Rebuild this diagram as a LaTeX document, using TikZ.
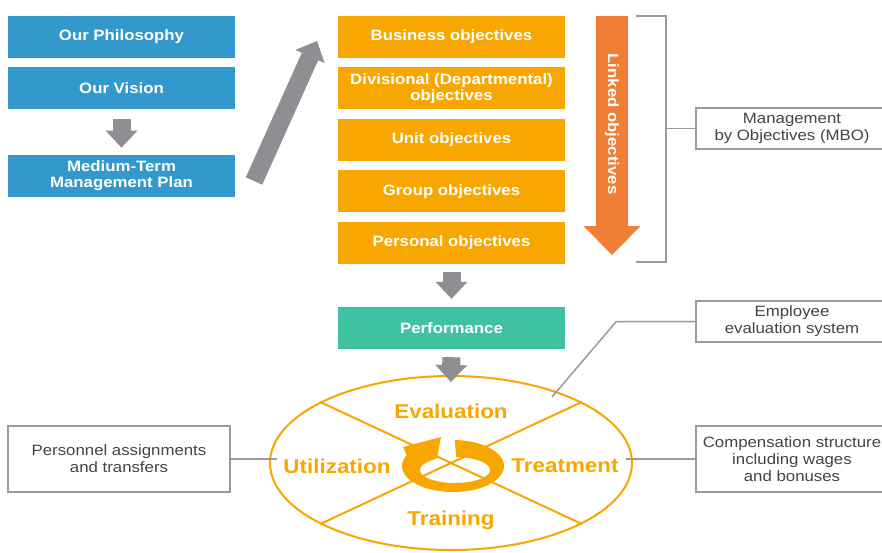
\documentclass[tikz,border=0pt]{standalone}
\usepackage{fontspec}
\setmainfont[FakeStretch=1.12]{Liberation Sans}
\usepackage{tikz}
\usetikzlibrary{arrows.meta,positioning,shapes.geometric}
\definecolor{planblue}{HTML}{3399CC}
\definecolor{objorange}{HTML}{F8A700}
\definecolor{perfteal}{HTML}{40C2A2}
\definecolor{linkorange}{HTML}{EF7F35}
\definecolor{arrgray}{HTML}{8E8F93}
\definecolor{linegray}{HTML}{9A9A9A}
\definecolor{notetext}{HTML}{444444}

\begin{document}
\begin{tikzpicture}[x=1pt,y=-1pt,
  solid box/.style={rectangle,minimum width=227pt,minimum height=42pt,inner sep=0pt,
    align=center,text=white,font=\fontsize{15}{16}\selectfont\bfseries},
  planbox/.style={solid box,fill=planblue},
  objbox/.style={solid box,fill=objorange},
  perfbox/.style={solid box,fill=perfteal},
  note/.style={rectangle,draw=linegray,line width=1.5pt,fill=white,text=notetext,
    minimum width=192pt,minimum height=41pt,inner sep=0pt,align=center,
    font=\fontsize{15}{17}\selectfont},
  link/.style={draw=linegray,line width=1.5pt},
  fatarr/.style={draw=arrgray,line width=18pt,-{Triangle[length=17pt,width=32pt,line width=0pt]}},
  linkarr/.style={draw=linkorange,line width=32pt,-{Triangle[length=29pt,width=57pt,line width=0pt]}},
  spoke/.style={draw=objorange,line width=2pt},
  wheeltxt/.style={text=objorange,font=\fontsize{20}{22}\selectfont\bfseries,inner sep=0pt}]

\fill[white] (0,0) rectangle (882,552);
\useasboundingbox (0,0) rectangle (882,552);

% left column
\node[planbox] (phil) at (121.5,37) {Our Philosophy};
\node[planbox,below=9pt of phil] (vision) {Our Vision};
\node[planbox,below=45pt of vision] (plan) {Medium-Term\\Management Plan};

% objectives
\node[objbox] (bus) at (451.5,37) {Business objectives};
\node[objbox,below=9pt of bus] (div) {Divisional (Departmental)\\objectives};
\node[objbox,below=9pt of div] (unit) {Unit objectives};
\node[objbox,below=9pt of unit] (group) {Group objectives};
\node[objbox,below=9pt of group] (pers) {Personal objectives};
\node[perfbox,below=43pt of pers] (perf) {Performance};

% linked objectives arrow
\coordinate (lktop) at (612,16);
\coordinate (lkbot) at (612,255);
\draw[linkarr] (lktop) -- (lkbot);
\node[rotate=-90,text=white,font=\fontsize{15}{16}\selectfont\bfseries] (lktext) at (612,124) {Linked objectives};

% notes
\node[note] (mbo) at (792,128.5) {Management\\by Objectives (MBO)};
\node[note] (emp) at (792,321.5) {Employee\\evaluation system};
\node[note,minimum height=66pt] (comp) at (792,459) {Compensation structure\\including wages\\and bonuses};
\node[note,minimum width=222pt,minimum height=66pt] (assign) at (119,459) {Personnel assignments\\and transfers};

% wheel
\node[draw=objorange,line width=2pt,ellipse,minimum width=362pt,minimum height=174pt,inner sep=0pt] (wheel) at (451,463) {};
\draw[spoke] (wheel.155) -- (wheel.-25);
\draw[spoke] (wheel.25) -- (wheel.205);
\fill[objorange] plot[domain=-88:205,samples=60] ({453+51*cos(\x)},{466+26*sin(\x)})
  -- (403,447) -- (441,437) -- (437,458)
  -- plot[domain=220:-88,samples=60] ({455+35*cos(\x)},{470+13*sin(\x)}) -- cycle;
\node[wheeltxt] (eval) at (451,411) {Evaluation};
\node[wheeltxt] (util) at (337,466) {Utilization};
\node[wheeltxt] (treat) at (565,466) {Treatment};
\node[wheeltxt] (train) at (451,520) {Training};

% arrows
\coordinate (risefrom) at (254,181);
\coordinate (riseto) at (317,41);
\draw[fatarr,shorten <=9pt,shorten >=7pt] (vision.south) -- (plan.north);
\draw[fatarr] (risefrom) -- (riseto);
\draw[fatarr,shorten <=8pt,shorten >=8pt] (pers.south) -- (perf.north);
\draw[fatarr,shorten <=8pt,shorten >=-7pt] (perf.south) -- (wheel.north);

% connectors
\coordinate (brtop) at (636,16);
\coordinate (brbot) at (636,262);
\coordinate (evalpt) at (552,397);
\draw[link] (brtop) -- ++(30,0) |- (brbot);
\draw[link] (mbo.west) -- ++(-30,0);
\draw[link] (emp.west) -- ++(-79,0) -- (evalpt);
\draw[link] (comp.west) -- ++(-69,0);
\draw[link] (assign.east) -- ++(46,0);
\end{tikzpicture}
\end{document}
